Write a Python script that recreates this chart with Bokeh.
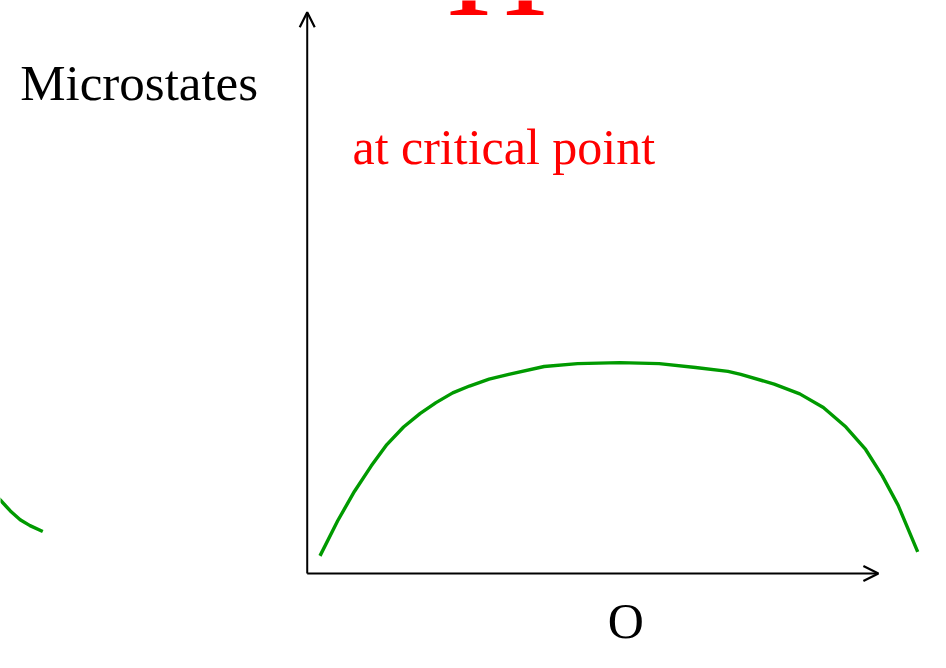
from bokeh.plotting import figure
from bokeh.models import Range1d, Arrow, OpenHead, Label
from bokeh.embed import file_html
from bokeh.resources import INLINE

# Data (x: order parameter O, y: number of microstates), origin at the axes corner
curve_x = [13, 31, 48, 65, 81, 98, 115, 131, 148, 165, 185, 205, 241, 275, 318, 358, 395, 428, 441, 475, 501, 525, 548, 568, 585, 601, 621]
curve_y = [18, 54, 84, 110, 132, 150, 164, 175, 185, 192, 199, 204, 212, 215, 216, 215, 211, 207, 204, 194, 184, 170, 150, 127, 100, 70, 22]
left_x = [-322, -312, -302, -292, -282, -269]
left_y = [86, 75, 64, 55, 49, 43]
x_axis_end = 581
y_axis_end = 575

title_text = "H"
ylabel_text = "Microstates"
xlabel_text = "O"
note_text = "at critical point"

p = figure(width=930, height=652, output_backend="svg", toolbar_location=None,
           x_range=Range1d(-312, 634), y_range=Range1d(-81, 587),
           min_border=0)
p.axis.visible = False
p.grid.visible = False
p.outline_line_color = None
p.background_fill_color = "white"
p.border_fill_color = "white"

green = "#009a00"
p.line(curve_x, curve_y, line_color=green, line_width=3.4, line_join="round")
p.line(left_x, left_y, line_color=green, line_width=3.4, line_join="round")

p.add_layout(Arrow(end=OpenHead(size=15, line_width=2.2, line_color="black"),
                   x_start=0, y_start=0, x_end=0, y_end=y_axis_end,
                   line_width=2, line_color="black"))
p.add_layout(Arrow(end=OpenHead(size=15, line_width=2.2, line_color="black"),
                   x_start=0, y_start=0, x_end=x_axis_end, y_end=0,
                   line_width=2, line_color="black"))

font = "Liberation Serif"
p.add_layout(Label(x=-292, y=502, text=ylabel_text, text_font=font,
                   text_font_size="51px", text_color="black",
                   text_baseline="alphabetic", text_align="left"))
p.add_layout(Label(x=46, y=437, text=note_text, text_font=font,
                   text_font_size="50px", text_color="red",
                   text_baseline="alphabetic", text_align="left"))
p.add_layout(Label(x=324, y=-49, text=xlabel_text, text_font=font,
                   text_font_size="50px", text_color="black",
                   text_baseline="alphabetic", text_align="center"))
p.add_layout(Label(x=193, y=621, text=title_text, text_font=font,
                   text_font_size="140px", text_color="red",
                   text_baseline="alphabetic", text_align="center"))

open("out.html", "w").write(file_html(p, INLINE))
